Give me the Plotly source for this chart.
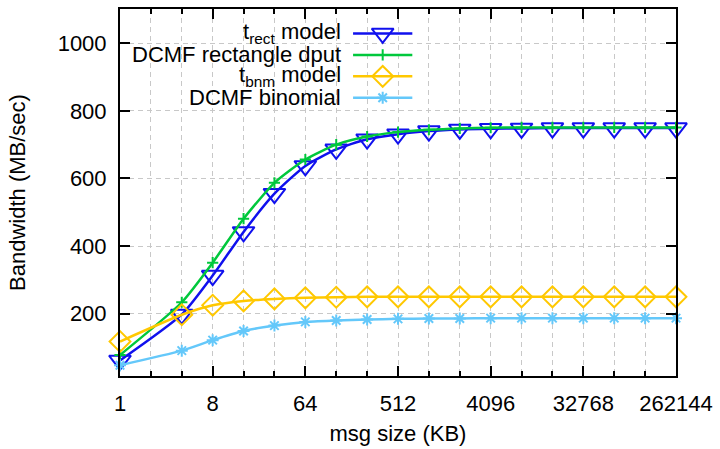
import plotly.graph_objects as go

# Message sizes (KB) and measured / modelled bandwidth (MB/sec)
msg_sizes = [1, 4, 8, 16, 32, 64, 128, 256, 512, 1024, 2048, 4096,
             8192, 16384, 32768, 65536, 131072, 262144]
t_rect_model = [62, 198, 313, 442, 555, 637, 686, 716, 731, 740, 745, 747,
                748, 749, 749, 749, 749, 749]
dcmf_rect_dput = [78, 234, 351, 481, 587, 656, 700, 724, 737, 744, 748, 750,
                  751, 751, 751, 751, 751, 751]
t_bnm_model = [118, 197, 225, 238, 244, 247, 249, 250, 250, 250, 250, 250,
               250, 250, 250, 250, 250, 250]
dcmf_binomial = [48, 91, 122, 149, 165, 176, 180, 183, 185, 186, 186, 187,
                 187, 187, 187, 187, 187, 187]

series_names = ["t<sub>rect</sub> model", "DCMF rectangle dput",
                "t<sub>bnm</sub> model", "DCMF binomial"]

x_major_ticks = [1, 8, 64, 512, 4096, 32768, 262144]
x_minor_ticks = [2 ** k for k in range(19) if k % 3 != 0]
y_ticks = [200, 400, 600, 800, 1000]

FONT = "Liberation Sans, Arial, Helvetica, sans-serif"
FS = 22

styles = [
    dict(color="#1010ee", symbol="triangle-down-open", size=19, lw=2),
    dict(color="#00c83c", symbol="cross-thin-open", size=8, lw=2),
    dict(color="#ffc800", symbol="diamond-open", size=16, lw=2),
    dict(color="#64c8fa", symbol="asterisk-open", size=10, lw=2),
]
values = [t_rect_model, dcmf_rect_dput, t_bnm_model, dcmf_binomial]

fig = go.Figure()
for name, vals, st in zip(series_names, values, styles):
    fig.add_trace(go.Scatter(
        x=msg_sizes, y=vals, name=name, mode="lines+markers",
        line=dict(color=st["color"], width=2.5, shape="spline", smoothing=0.6),
        marker=dict(symbol=st["symbol"], size=st["size"], color=st["color"],
                    line=dict(color=st["color"], width=st["lw"])),
        showlegend=False, cliponaxis=False,
    ))

# Key drawn in the upper-left, gnuplot style: text right-aligned, sample on the right
key_rows = [32, 54, 76, 98]
for name, st, ry in zip(series_names, styles, key_rows):
    fig.add_trace(go.Scatter(
        x=[356, 416], y=[ry, ry], xaxis="x2", yaxis="y2", mode="lines",
        line=dict(color=st["color"], width=2.5), showlegend=False, hoverinfo="skip",
    ))
    fig.add_trace(go.Scatter(
        x=[386], y=[ry], xaxis="x2", yaxis="y2", mode="markers",
        marker=dict(symbol=st["symbol"], size=st["size"], color=st["color"],
                    line=dict(color=st["color"], width=st["lw"])),
        showlegend=False, hoverinfo="skip",
    ))
    fig.add_annotation(
        x=346, y=ry, xref="x2", yref="y2", text=name, showarrow=False,
        xanchor="right", yanchor="middle", font=dict(family=FONT, size=FS, color="black"),
    )

grid = dict(gridcolor="#c8c8c8", griddash="5px,4px", gridwidth=1)

fig.update_layout(
    width=720, height=449,
    margin=dict(l=120, r=37, t=7, b=66),
    paper_bgcolor="white", plot_bgcolor="white",
    font=dict(family=FONT, size=FS, color="black"),
    xaxis=dict(
        type="log", range=[0, 5.418539921951662],
        tickmode="array", tickvals=x_major_ticks,
        ticktext=[str(v) for v in x_major_ticks],
        ticks="inside", ticklen=10, tickwidth=1.5, tickcolor="black",
        showline=True, linecolor="black", linewidth=2, mirror="allticks",
        showgrid=True, zeroline=False, ticklabelstandoff=7,
        minor=dict(tickmode="array", tickvals=x_minor_ticks, ticks="inside",
                   ticklen=5, tickwidth=1.5, tickcolor="black", showgrid=True,
                   **grid),
        title=dict(text="msg size (KB)", standoff=10,
                   font=dict(family=FONT, size=FS)),
        **grid,
    ),
    yaxis=dict(
        range=[16, 1101],
        tickmode="array", tickvals=y_ticks,
        ticks="inside", ticklen=10, tickwidth=1.5, tickcolor="black",
        showline=True, linecolor="black", linewidth=2, mirror="allticks",
        showgrid=True, zeroline=False, ticklabelstandoff=7,
        title=dict(text="Bandwidth (MB/sec)", standoff=26,
                   font=dict(family=FONT, size=FS)),
        **grid,
    ),
    xaxis2=dict(overlaying="x", range=[120, 683], visible=False, fixedrange=True),
    yaxis2=dict(overlaying="y", range=[383, 7], visible=False, fixedrange=True),
)

fig.write_html("out.html")
